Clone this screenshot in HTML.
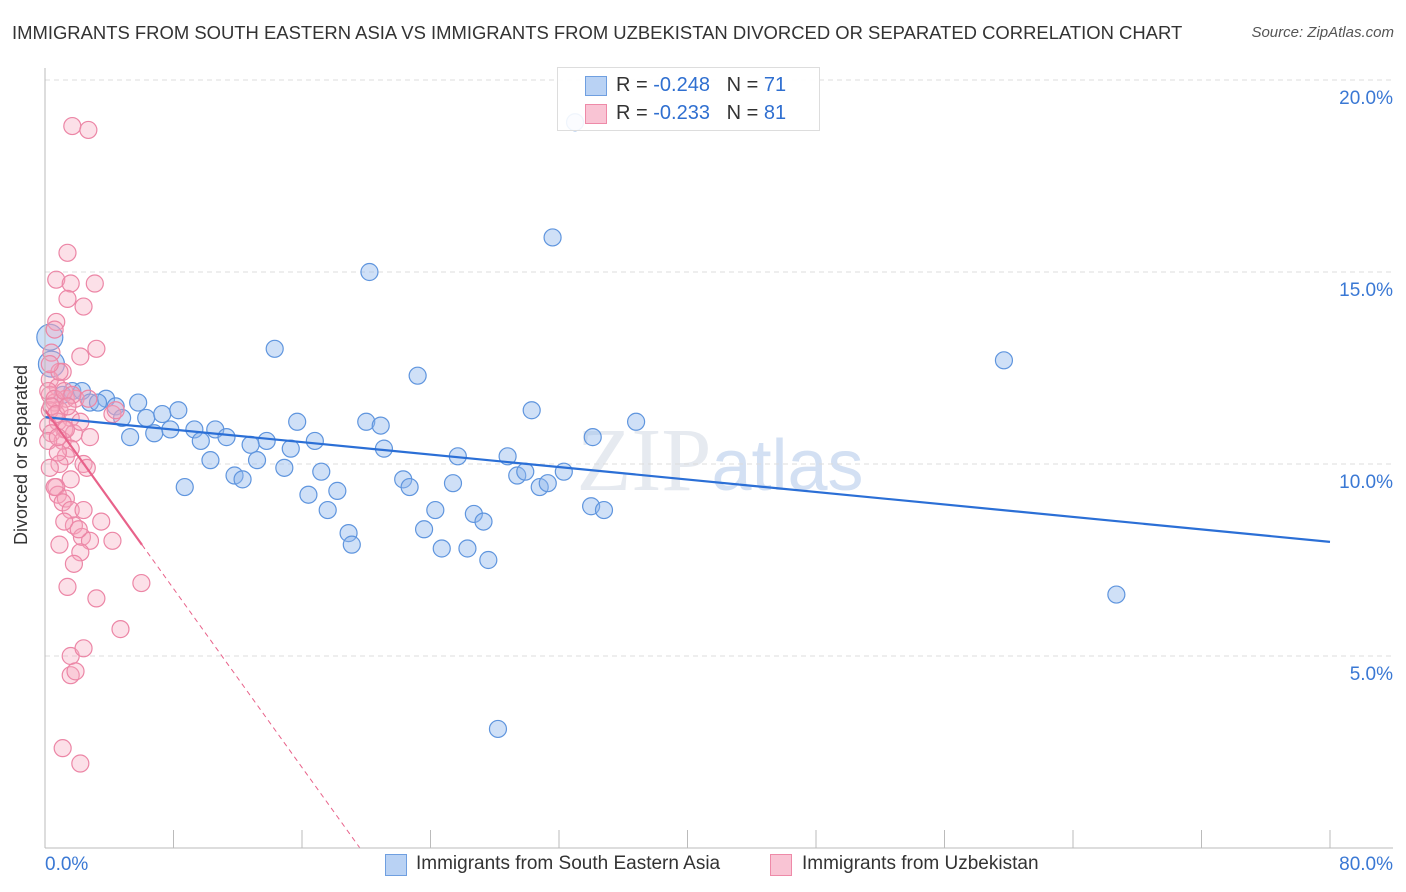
<!DOCTYPE html>
<html><head><meta charset="utf-8">
<style>
body{margin:0;background:#fff;font-family:"Liberation Sans",sans-serif;}
#wrap{position:relative;width:1406px;height:892px;overflow:hidden;}
.t{position:absolute;white-space:nowrap;}
</style></head>
<body>
<div id="wrap">
<div class="t" style="left:12px;top:22px;font-size:18.45px;color:#333;">IMMIGRANTS FROM SOUTH EASTERN ASIA VS IMMIGRANTS FROM UZBEKISTAN DIVORCED OR SEPARATED CORRELATION CHART</div>
<div class="t" style="right:12px;top:24px;font-size:15px;color:#555;font-style:italic;">Source: ZipAtlas.com</div>
<svg id="svg" width="1406" height="892" style="position:absolute;left:0;top:0">
<text x="720" y="490" text-anchor="middle" font-family="Liberation Serif" font-size="90" fill="#e6eaf0">ZIP<tspan font-family="Liberation Sans" fill="#d3e0f3" font-size="72">atlas</tspan></text>
<g id="grid"></g><g id="pts"></g><g id="lines"></g><g id="axes"></g>
<text x="27" y="455" transform="rotate(-90 27 455)" text-anchor="middle" font-size="18" fill="#333">Divorced or Separated</text>
</svg>
<div style="position:absolute;left:557px;top:67px;width:261px;height:62px;border:1px solid #ddd;background:rgba(255,255,255,0.9);">
 <div style="position:absolute;left:27px;top:8px;width:20px;height:18px;background:#b9d2f4;border:1px solid #6f9fe0;"></div>
 <div class="t" style="left:58px;top:6px;font-size:20px;color:#333">R = <span style="color:#2f6fd0">-0.248</span>&nbsp;&nbsp;&nbsp;N = <span style="color:#2f6fd0">71</span></div>
 <div style="position:absolute;left:27px;top:36px;width:20px;height:18px;background:#f9c4d4;border:1px solid #ee8aa8;"></div>
 <div class="t" style="left:58px;top:34px;font-size:20px;color:#333">R = <span style="color:#2f6fd0">-0.233</span>&nbsp;&nbsp;&nbsp;N = <span style="color:#2f6fd0">81</span></div>
</div>
<div style="position:absolute;left:385px;top:854px;width:20px;height:20px;background:#b9d2f4;border:1px solid #6f9fe0;"></div>
<div class="t" style="left:416px;top:853px;font-size:19px;color:#333">Immigrants from South Eastern Asia</div>
<div style="position:absolute;left:770px;top:854px;width:20px;height:20px;background:#f9c4d4;border:1px solid #ee8aa8;"></div>
<div class="t" style="left:802px;top:853px;font-size:19px;color:#333">Immigrants from Uzbekistan</div>
</div>
<script>
const yTicks=[5,10,15,20];
const yTickLabels=["5.0%","10.0%","15.0%","20.0%"];
const xTickLabels=["0.0%","80.0%"];
const blueX=[33.0,31.6,20.2,14.3,59.7,23.2,1.7,2.3,1.1,2.8,3.8,3.3,5.8,4.4,4.8,6.3,7.3,8.3,15.7,20.0,20.9,30.3,36.8,9.3,10.6,7.8,5.3,6.8,9.7,11.3,13.8,16.8,12.8,15.3,21.1,34.1,28.8,25.7,32.3,29.4,29.9,10.3,13.2,14.9,17.2,11.8,12.3,22.3,22.7,25.4,30.8,31.3,8.7,18.2,16.4,34.0,34.8,24.3,17.6,26.7,27.3,18.9,23.6,19.1,24.7,26.3,27.6,66.7,28.2,0.3,0.4];
const blueY=[18.9,15.9,15.0,13.0,12.7,12.3,11.9,11.9,11.8,11.6,11.7,11.6,11.6,11.5,11.2,11.2,11.3,11.4,11.1,11.1,11.0,11.4,11.1,10.9,10.9,10.9,10.7,10.8,10.6,10.7,10.6,10.6,10.5,10.4,10.4,10.7,10.2,10.2,9.8,9.7,9.8,10.1,10.1,9.9,9.8,9.7,9.6,9.6,9.4,9.5,9.4,9.5,9.4,9.3,9.2,8.9,8.8,8.8,8.8,8.7,8.5,8.2,8.3,7.9,7.8,7.8,7.5,6.6,3.1,13.3,12.6];
const blueR=[8.5,8.5,8.5,8.5,8.5,8.5,8.5,8.5,8.5,8.5,8.5,8.5,8.5,8.5,8.5,8.5,8.5,8.5,8.5,8.5,8.5,8.5,8.5,8.5,8.5,8.5,8.5,8.5,8.5,8.5,8.5,8.5,8.5,8.5,8.5,8.5,8.5,8.5,8.5,8.5,8.5,8.5,8.5,8.5,8.5,8.5,8.5,8.5,8.5,8.5,8.5,8.5,8.5,8.5,8.5,8.5,8.5,8.5,8.5,8.5,8.5,8.5,8.5,8.5,8.5,8.5,8.5,8.5,8.5,13,13];
const pinkX=[1.7,2.7,1.4,0.7,3.1,1.6,1.4,2.4,0.7,0.6,3.2,2.2,0.4,1.1,0.3,0.8,0.3,1.3,1.9,0.6,0.9,0.3,1.6,0.8,0.2,1.2,0.4,1.8,2.8,1.1,1.6,1.3,0.9,2.4,2.6,1.6,0.7,0.8,1.3,1.1,1.6,2.4,1.8,3.5,2.3,2.8,4.2,2.2,1.8,6.0,1.4,3.2,4.7,1.6,2.4,1.6,1.9,1.1,2.2,4.2,4.4,0.2,0.6,0.4,0.7,0.2,1.2,0.9,0.3,1.7,1.4,0.8,0.3,0.6,1.2,2.1,0.9,1.3,0.8,2.2,2.7];
const pinkY=[18.8,18.7,15.5,14.8,14.7,14.7,14.3,14.1,13.7,13.5,13.0,12.8,12.9,12.4,12.2,12.0,11.8,11.7,11.7,11.6,11.4,11.4,11.2,11.1,11.0,10.9,10.8,10.8,10.7,10.6,10.4,10.2,10.0,10.0,9.9,9.6,9.4,9.2,9.1,9.0,8.8,8.8,8.4,8.5,8.1,8.0,8.0,7.7,7.4,6.9,6.8,6.5,5.7,5.0,5.2,4.5,4.6,2.6,2.2,11.3,11.4,11.9,11.7,11.5,11.3,10.6,11.9,12.4,12.6,11.8,11.5,10.3,9.9,9.4,8.5,8.3,7.9,10.9,10.7,11.1,11.7];
const trendIntercept=[11.22,11.41];
const trendSlope=[-0.0406,-0.582];
const trendSolidEnd=[80,6.04];
const pinkDashEnd=[19.6];
const X=v=>45+v*16.0625, Y=v=>848-v*38.4;
const NS="http://www.w3.org/2000/svg";
function mk(tag,attrs,parent){const e=document.createElementNS(NS,tag);for(const k in attrs)e.setAttribute(k,attrs[k]);document.getElementById(parent).appendChild(e);return e;}
yTicks.forEach((t,i)=>{
 const g=mk('line',{x1:45,x2:1393,y1:Y(t),y2:Y(t),stroke:'#dcdcdc','stroke-dasharray':'5,4'},'grid');
 
 
 const l=mk('text',{x:1393,y:Y(t)+24,'text-anchor':'end','font-size':19,fill:'#3a78d4'},'axes');
 l.textContent=yTickLabels[i];
 
 
});
mk('line',{x1:45,x2:45,y1:68,y2:848,stroke:'#bbb'},'axes');
mk('line',{x1:45,x2:1393,y1:848,y2:848,stroke:'#bbb'},'axes');
for(let i=1;i<=10;i++){const t=mk('line',{x1:X(i*8),x2:X(i*8),y1:830,y2:848,stroke:'#bbb'},'axes');
 
 }
[[0,'start',45],[80,'end',1393]].forEach((a,i)=>{const l=mk('text',{x:a[2],y:870,'text-anchor':a[1],'font-size':19,fill:'#3a78d4'},'axes');l.textContent=xTickLabels[i];
 
 });
blueX.forEach((x,i)=>{const c=mk('circle',{cx:X(x),cy:Y(blueY[i]),r:blueR[i],fill:'rgba(140,180,235,0.42)',stroke:'#5f95de','stroke-width':1.2},'pts');
 
 });
pinkX.forEach((x,i)=>{const c=mk('circle',{cx:X(x),cy:Y(pinkY[i]),r:8.5,fill:'rgba(245,165,190,0.35)',stroke:'#ec86a6','stroke-width':1.2},'pts');
 
 });
const cols=['#2b6fd6','#e8628a'];
[0,1].forEach(k=>{const e=trendSolidEnd[k];const l=mk('line',{x1:X(0),y1:Y(trendIntercept[k]),x2:X(e),y2:Y(trendIntercept[k]+trendSlope[k]*e),stroke:cols[k],'stroke-width':2.2},'lines');
 
 });
const d=mk('line',{x1:X(trendSolidEnd[1]),y1:Y(trendIntercept[1]+trendSlope[1]*trendSolidEnd[1]),x2:X(pinkDashEnd[0]),y2:Y(trendIntercept[1]+trendSlope[1]*pinkDashEnd[0]),stroke:'#e8628a','stroke-width':1,'stroke-dasharray':'5,4'},'lines');


</script>
</body></html>
